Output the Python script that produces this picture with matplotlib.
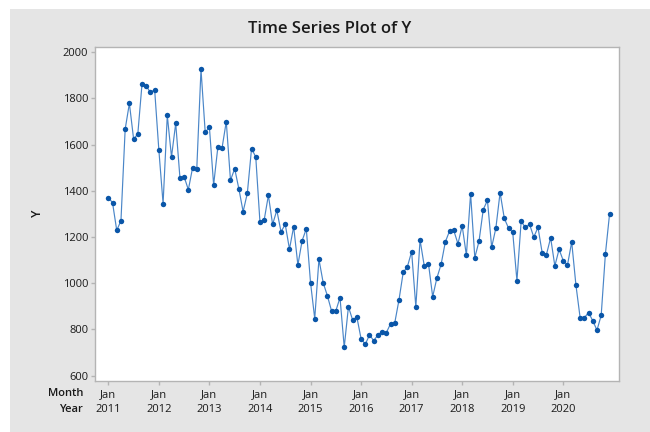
import matplotlib
matplotlib.use("Agg")
import matplotlib.pyplot as plt
from matplotlib.patches import Rectangle
from matplotlib.transforms import blended_transform_factory

y_values = [
    1371, 1349, 1229, 1271, 1667, 1779, 1625, 1646, 1863, 1853, 1827, 1837,
    1576, 1345, 1727, 1547, 1693, 1457, 1461, 1405, 1500, 1496, 1926, 1654,
    1675, 1426, 1589, 1586, 1700, 1446, 1496, 1408, 1310, 1390, 1583, 1547,
    1264, 1274, 1381, 1255, 1316, 1223, 1255, 1148, 1245, 1079, 1184, 1236,
    1003, 847, 1104, 1003, 946, 880, 880, 938, 723, 898, 841, 854,
    760, 736, 776, 752, 776, 791, 786, 825, 829, 928, 1047, 1072,
    1137, 898, 1188, 1075, 1085, 942, 1023, 1082, 1179, 1226, 1229, 1171,
    1249, 1121, 1388, 1111, 1182, 1319, 1359, 1156, 1239, 1393, 1281, 1239,
    1221, 1011, 1268, 1242, 1255, 1200, 1242, 1131, 1124, 1197, 1075, 1147,
    1098, 1079, 1179, 993, 851, 851, 873, 838, 797, 861, 1127, 1302,
]
years = ["2011", "2012", "2013", "2014", "2015", "2016", "2017", "2018", "2019", "2020"]
month_label = "Jan"
y_ticks = [600, 800, 1000, 1200, 1400, 1600, 1800, 2000]

W, H = 650, 432
fig = plt.figure(figsize=(W / 100, H / 100), dpi=100)
fig.patch.set_facecolor("white")
bg = Rectangle((10 / W, 0), 1 - 10 / W, 1 - 9 / H, transform=fig.transFigure,
               facecolor="#e5e5e5", edgecolor="none", zorder=-10)
fig.patches.append(bg)

left, right, top, bottom = 95.3, 619.3, 47.3, 381.0
ax = fig.add_axes([left / W, 1 - bottom / H, (right - left) / W, (bottom - top) / H])
ax.set_facecolor("white")

x = list(range(len(y_values)))
ax.plot(x, y_values, color="#4a86c8", linewidth=0.85, zorder=2)
ax.plot(x, y_values, linestyle="none", marker="o", markersize=3.9,
        color="#0a56a8", markeredgewidth=0, zorder=3)

ax.set_xlim(-3.09, 121.3)
ax.set_ylim(577, 2021.6)

font = "Open Sans"
tc = "#1a1a1a"
ax.set_yticks(y_ticks)
ax.set_yticklabels([str(v) for v in y_ticks], fontsize=8, family=font, color=tc)
xt = [12 * i for i in range(len(years))]
ax.set_xticks(xt)
ax.set_xticklabels([month_label] * len(years), fontsize=8, family=font, color=tc)

for s in ax.spines.values():
    s.set_color("#b4b4b4")
    s.set_linewidth(1.0)
ax.tick_params(axis="both", which="both", color="#b4b4b4", length=3, width=1)
ax.tick_params(axis="x", pad=2.5)
ax.tick_params(axis="y", pad=2)

trans = blended_transform_factory(ax.transData, fig.transFigure)
for xi, yr in zip(xt, years):
    ax.text(xi, 1 - 410 / H, yr, transform=trans, ha="center", va="center",
            fontsize=8, family=font, color=tc)
fig.text(83 / W, 1 - 393.5 / H, "Month", ha="right", va="center", fontsize=8,
         family=font, color=tc, weight="semibold")
fig.text(83 / W, 1 - 410 / H, "Year", ha="right", va="center", fontsize=8,
         family=font, color=tc, weight="semibold")

fig.text(37 / W, 1 - 213 / H, "Y", rotation=90, ha="center", va="center",
         fontsize=9, family=font, color=tc, weight="semibold")
fig.text(330 / W, 1 - 29 / H, "Time Series Plot of Y", ha="center", va="center",
         fontsize=12, family=font, color=tc, weight="semibold")

fig.savefig("out.png", dpi=100, facecolor=fig.get_facecolor())
